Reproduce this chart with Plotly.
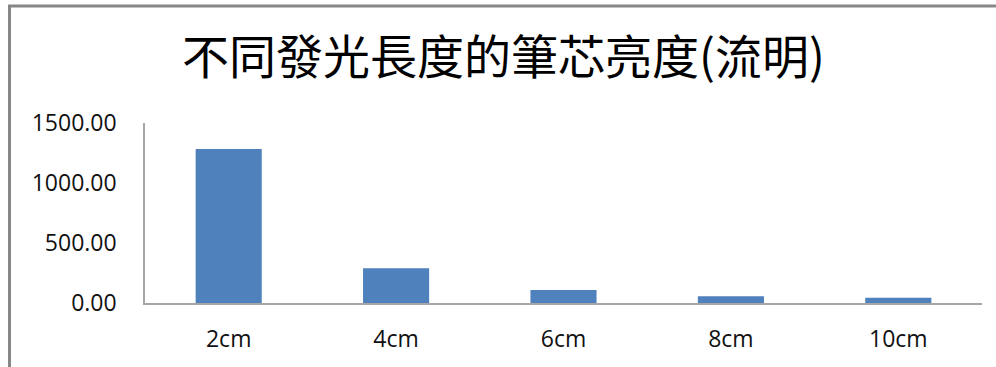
import plotly.graph_objects as go

categories = ["2cm", "4cm", "6cm", "8cm", "10cm"]
values = [1283, 289, 108, 56, 44]
y_ticks = [0, 500, 1000, 1500]
title_text = "不同發光長度的筆芯亮度(流明)"

W, H = 996, 367
L, R, T, B = 145, 14, 123, 64
pw, ph = W - L - R, H - T - B

def px_x(x):
    return (x - L) / pw

def px_y(y):
    return (H - B - y) / ph

fig = go.Figure(go.Bar(
    x=categories, y=values,
    marker=dict(color="#4f81bd", line=dict(width=0)),
    width=0.395,
))

fig.update_layout(
    width=W, height=H,
    margin=dict(l=L, r=R, t=T, b=B, pad=0),
    paper_bgcolor="white", plot_bgcolor="white",
    showlegend=False,
    title=dict(text=title_text, x=503.5 / W, xanchor="center",
               y=1 - 58 / H, yanchor="middle", yref="container",
               font=dict(family="Noto Sans CJK TC", size=47, color="black")),
    font=dict(family="Open Sans", size=23, color="black"),
)
fig.update_xaxes(showline=True, linecolor="#a6a6a6", linewidth=1.5,
                 showgrid=False, ticks="", ticklabelstandoff=15,
                 tickfont=dict(family="Open Sans", size=23, color="#111"))
fig.update_yaxes(range=[0, 1500], tickvals=y_ticks, tickformat=".2f",
                 showline=True, linecolor="#a6a6a6", linewidth=1.5,
                 showgrid=False, zeroline=False, ticks="", ticklabelstandoff=22,
                 tickfont=dict(family="Open Sans", size=23, color="#111"))

fig.add_shape(type="rect", xref="paper", yref="paper",
              x0=px_x(9.5), x1=px_x(1010), y0=px_y(385), y1=px_y(6),
              line=dict(color="#878787", width=3), fillcolor="rgba(0,0,0,0)",
              layer="above")

fig.write_html("out.html")
